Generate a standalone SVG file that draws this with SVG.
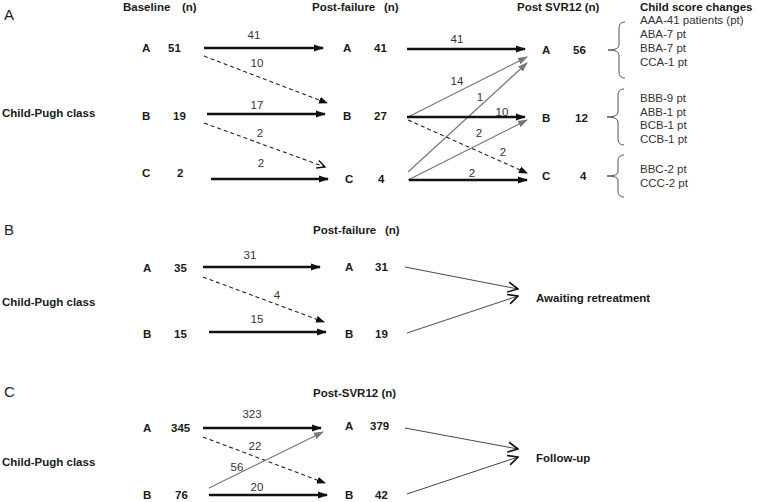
<svg xmlns="http://www.w3.org/2000/svg" width="761" height="502" viewBox="0 0 761 502">
<style>
text{font-family:"Liberation Sans",Arial,sans-serif;}
.pl{font-size:15px;fill:#222;}
.h{font-size:11.5px;font-weight:bold;fill:#1a1a1a;}
.n{font-size:11.5px;font-weight:bold;fill:#1a1a1a;}
.lb{font-size:11.5px;fill:#333;text-anchor:middle;}
.li{font-size:11.5px;fill:#333;}
.bold{stroke:#111;stroke-width:2.4;fill:none;marker-end:url(#ah);}
.dash{stroke:#222;stroke-width:1.1;stroke-dasharray:4,3;fill:none;marker-end:url(#ahs);}
.dasho{stroke:#222;stroke-width:1.1;stroke-dasharray:4,3;fill:none;marker-end:url(#op);}
.grey{stroke:#777;stroke-width:1.2;fill:none;marker-end:url(#ahg);}
.thin{stroke:#333;stroke-width:0.9;fill:none;marker-end:url(#opl);}
.brace{stroke:#555;stroke-width:1;fill:none;}
</style>
<defs>
<marker id="ah" markerUnits="userSpaceOnUse" markerWidth="10" markerHeight="8" refX="9" refY="4" orient="auto"><path d="M0,0.5 L10,4 L0,7.5 z" fill="#111"/></marker>
<marker id="ahs" markerUnits="userSpaceOnUse" markerWidth="9" markerHeight="8" refX="8" refY="4" orient="auto"><path d="M0,0.5 L9,4 L0,7.5 z" fill="#111"/></marker>
<marker id="ahg" markerUnits="userSpaceOnUse" markerWidth="10" markerHeight="8" refX="9" refY="4" orient="auto"><path d="M0,0.5 L10,4 L0,7.5 z" fill="#777"/></marker>
<marker id="op" markerUnits="userSpaceOnUse" markerWidth="10" markerHeight="10" refX="9" refY="5" orient="auto"><path d="M1,1 L9,5 L1,9" fill="none" stroke="#111" stroke-width="1.4"/></marker>
<marker id="opl" markerUnits="userSpaceOnUse" markerWidth="12" markerHeight="12" refX="11" refY="6" orient="auto"><path d="M1,1 L11,6 L1,11" fill="none" stroke="#111" stroke-width="1.6"/></marker>
</defs>

<g id="panelA-labels">
<text class="pl" x="4" y="20">A</text>
<text class="h" x="123" y="11">Baseline</text><text class="h" x="182" y="11">(n)</text>
<text class="h" x="312" y="11">Post-failure</text><text class="h" x="384" y="11">(n)</text>
<text class="h" x="517" y="11">Post SVR12 (n)</text>
<text class="h" x="640" y="11">Child  score changes</text>
<text class="h" x="2" y="117">Child-Pugh class</text>
</g>

<g id="A-base-A"><text class="n" x="142" y="52">A</text><text class="n" x="168" y="52">51</text></g>
<g id="A-base-B"><text class="n" x="142" y="120">B</text><text class="n" x="173" y="120">19</text></g>
<g id="A-base-C"><text class="n" x="142" y="177">C</text><text class="n" x="177" y="177">2</text></g>
<g id="A-pf-A"><text class="n" x="343" y="52">A</text><text class="n" x="374" y="52">41</text></g>
<g id="A-pf-B"><text class="n" x="343" y="120">B</text><text class="n" x="374" y="120">27</text></g>
<g id="A-pf-C"><text class="n" x="345" y="183">C</text><text class="n" x="378" y="183">4</text></g>
<g id="A-svr-A"><text class="n" x="542" y="54">A</text><text class="n" x="573" y="54">56</text></g>
<g id="A-svr-B"><text class="n" x="542" y="122">B</text><text class="n" x="575" y="122">12</text></g>
<g id="A-svr-C"><text class="n" x="542" y="180">C</text><text class="n" x="580" y="180">4</text></g>

<g id="A-changes">
<path class="brace" d="M625,22 Q619,22 619,28 L619,45 Q619,50 608,50 Q619,50 619,55 L619,72 Q619,78 625,78"/>
<text class="li" x="640" y="24">AAA-41 patients (pt)</text>
<text class="li" x="640" y="38">ABA-7 pt</text>
<text class="li" x="640" y="52">BBA-7 pt</text>
<text class="li" x="640" y="66">CCA-1 pt</text>
<path class="brace" d="M624,89 Q618,89 618,95 L618,112 Q618,117 607,117 Q618,117 618,122 L618,139 Q618,145 624,145"/>
<text class="li" x="640" y="102">BBB-9 pt</text>
<text class="li" x="640" y="115.5">ABB-1 pt</text>
<text class="li" x="640" y="129">BCB-1 pt</text>
<text class="li" x="640" y="143">CCB-1 pt</text>
<path class="brace" d="M624,155 Q618,155 618,161 L618,172 Q618,176 607,176 Q618,176 618,180 L618,191 Q618,197 624,197"/>
<text class="li" x="640" y="173">BBC-2 pt</text>
<text class="li" x="640" y="187">CCC-2 pt</text>
</g>

<g id="panelB-labels">
<text class="pl" x="4" y="235">B</text>
<text class="h" x="313" y="234">Post-failure</text><text class="h" x="385" y="234">(n)</text>
<text class="h" x="2" y="306">Child-Pugh class</text>
</g>
<g id="B-base-A"><text class="n" x="143" y="272">A</text><text class="n" x="174" y="272">35</text></g>
<g id="B-base-B"><text class="n" x="143" y="338">B</text><text class="n" x="174" y="338">15</text></g>
<g id="B-pf-A"><text class="n" x="345" y="271">A</text><text class="n" x="375" y="271">31</text></g>
<g id="B-pf-B"><text class="n" x="345" y="338">B</text><text class="n" x="375" y="338">19</text></g>
<g id="B-await"><text class="h" x="536" y="302">Awaiting retreatment</text></g>

<g id="panelC-labels">
<text class="pl" x="4" y="397">C</text>
<text class="h" x="313" y="397">Post-SVR12 (n)</text>
<text class="h" x="2" y="466">Child-Pugh class</text>
</g>
<g id="C-base-A"><text class="n" x="143" y="432">A</text><text class="n" x="171" y="432">345</text></g>
<g id="C-base-B"><text class="n" x="143" y="499">B</text><text class="n" x="175" y="499">76</text></g>
<g id="C-svr-A"><text class="n" x="345" y="430">A</text><text class="n" x="370" y="430">379</text></g>
<g id="C-svr-B"><text class="n" x="345" y="499">B</text><text class="n" x="375" y="499">42</text></g>
<g id="C-follow"><text class="h" x="536" y="462">Follow-up</text></g>

<g id="connectors">
<!-- Panel A baseline to post-failure -->
<line class="bold" x1="204" y1="48" x2="323" y2="48"/><text class="lb" x="254" y="39">41</text>
<line class="dash" x1="204" y1="56" x2="327" y2="103"/><text class="lb" x="257" y="67">10</text>
<line class="bold" x1="207" y1="114" x2="325" y2="114"/><text class="lb" x="257" y="109">17</text>
<line class="dasho" x1="204" y1="123" x2="325" y2="167"/><text class="lb" x="260" y="137">2</text>
<line class="bold" x1="211" y1="179" x2="328" y2="179"/><text class="lb" x="261" y="167">2</text>
<!-- Panel A post-failure to SVR12 -->
<line class="bold" x1="407" y1="49" x2="525" y2="49"/><text class="lb" x="457" y="43">41</text>
<line class="grey" x1="408" y1="117" x2="527" y2="57"/><text class="lb" x="457" y="85">14</text>
<line class="grey" x1="408" y1="172" x2="527" y2="63"/><text class="lb" x="480" y="101">1</text>
<line class="bold" x1="407" y1="117" x2="525" y2="117"/><text class="lb" x="502" y="116">10</text>
<line class="grey" x1="408" y1="180" x2="527" y2="120"/><text class="lb" x="479" y="137">2</text>
<line class="dash" x1="408" y1="120" x2="527" y2="173"/><text class="lb" x="503" y="156">2</text>
<line class="bold" x1="409" y1="180" x2="527" y2="180"/><text class="lb" x="472" y="177">2</text>
<!-- Panel B -->
<line class="bold" x1="203" y1="267" x2="320" y2="267"/><text class="lb" x="250" y="259">31</text>
<line class="dash" x1="203" y1="277" x2="324" y2="322"/><text class="lb" x="277" y="299">4</text>
<line class="bold" x1="209" y1="332" x2="326" y2="332"/><text class="lb" x="257" y="323">15</text>
<line class="thin" x1="405" y1="267" x2="518" y2="289"/>
<line class="thin" x1="407" y1="333" x2="518" y2="296"/>
<!-- Panel C -->
<line class="bold" x1="203" y1="428" x2="321" y2="428"/><text class="lb" x="252" y="418">323</text>
<line class="dash" x1="203" y1="437" x2="325" y2="483"/><text class="lb" x="255" y="450">22</text>
<line class="grey" x1="209" y1="488" x2="323" y2="432"/><text class="lb" x="237" y="471">56</text>
<line class="bold" x1="209" y1="495" x2="327" y2="495"/><text class="lb" x="257" y="491">20</text>
<line class="thin" x1="405" y1="428" x2="518" y2="449"/>
<line class="thin" x1="407" y1="494" x2="518" y2="457"/>
</g>
</svg>
